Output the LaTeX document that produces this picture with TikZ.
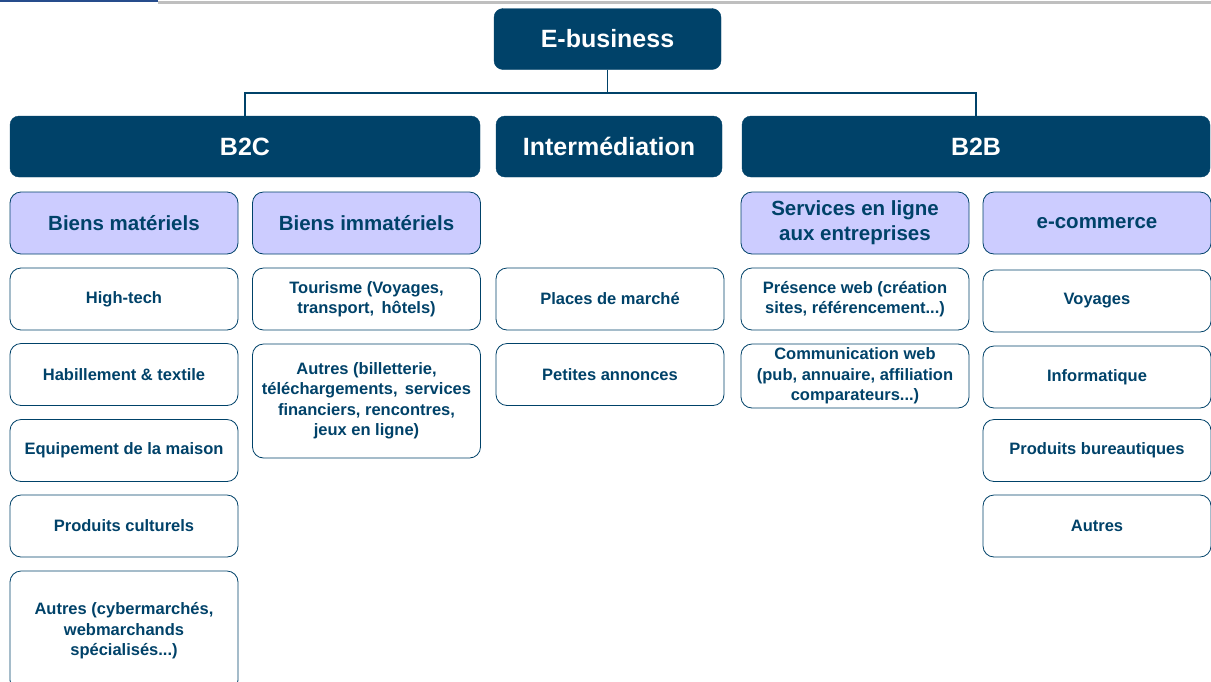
\documentclass[tikz,border=0pt]{standalone}
\usepackage{fontspec}
\setmainfont{Liberation Sans}
\definecolor{navy}{rgb}{0.0,0.26,0.41}
\definecolor{lavender}{rgb}{0.8,0.8,1.0}
\definecolor{rulegray}{rgb}{0.75,0.75,0.75}
\definecolor{ruleblue}{rgb}{0.15,0.30,0.55}
\tikzset{
  hdr/.style={draw=navy, fill=navy, text=white, rounded corners=9pt, minimum height=61pt, inner sep=0pt, align=center, font=\fontsize{25}{29}\selectfont\bfseries},
  subhdr/.style={draw=navy, fill=lavender, text=navy, line width=0.8pt, rounded corners=11pt, minimum width=228pt, minimum height=62pt, inner sep=0pt, align=center, font=\fontsize{20.5}{25}\selectfont\bfseries},
  item/.style={draw=navy, fill=white, text=navy, line width=0.8pt, rounded corners=11pt, minimum width=228pt, minimum height=62pt, inner sep=0pt, align=center, font=\fontsize{16.5}{20.5}\selectfont\bfseries},
  link/.style={draw=navy, line width=1.2pt}
}

\begin{document}
\begin{tikzpicture}[x=1pt,y=-1pt]
  \useasboundingbox[fill=white] (0,0) rectangle (1211,681);
  % rules at the top
  \draw[ruleblue, line width=2pt] (0,1) -- (158,1);
  \draw[rulegray, line width=3pt] (158,2) -- (1211,2);

  % top level
  \node(ebiz) [hdr, minimum width=227pt] at (607.5,39) {E-business};
  \node(b2c)  [hdr, minimum width=470pt] at (245,146.5) {B2C};
  \node(inter)[hdr, minimum width=226pt] at (609,146.5) {Intermédiation};
  \node(b2b)  [hdr, minimum width=468pt] at (976,146.5) {B2B};

  % sub-categories
  \node(mat)   [subhdr] at (124,223) {Biens matériels};
  \node(immat) [subhdr] at (366.5,223) {Biens immatériels};
  \node(serv)  [subhdr] at (855,223) {Services en ligne\\aux entreprises};
  \node(ecom)  [subhdr] at (1097,223) {e-commerce};

  % B2C, biens materiels
  \node(hightech) [item] at (124,299) {High-tech};
  \node(habil)    [item] at (124,374.5) {Habillement \& textile};
  \node(equip)    [item] at (124,450.5) {Equipement de la maison};
  \node(cult)     [item] at (124,526) {Produits culturels};
  \node(autresA)  [item, minimum height=120pt] at (124,631) {Autres (cybermarchés,\\webmarchands\\spécialisés...)};

  % B2C, biens immateriels
  \node(tour)    [item] at (366.5,299) {Tourisme (Voyages,\\transport,\, hôtels)};
  \node(autresB) [item, minimum height=114pt] at (366.5,401) {Autres (billetterie,\\téléchargements,\, services\\financiers, rencontres,\\jeux en ligne)};

  % intermediation
  \node(places) [item] at (610,299) {Places de marché};
  \node(annon)  [item] at (610,374.5) {Petites annonces};

  % B2B, services
  \node(pres) [item] at (855,299) {Présence web (création\\sites, référencement...)};
  \node(comm) [item, minimum height=64pt] at (855,376) {Communication web\\(pub, annuaire, affiliation\\comparateurs...)};

  % B2B, e-commerce
  \node(voy)    [item] at (1097,301) {Voyages};
  \node(info)   [item] at (1097,377) {Informatique};
  \node(bureau) [item] at (1097,450.5) {Produits bureautiques};
  \node(autresC)[item] at (1097,526) {Autres};

  \coordinate (split) at (607.5,93);
  \draw[link] (ebiz) -- (split);
  \draw[link] (split) -| (b2c);
  \draw[link] (split) -| (b2b);
\end{tikzpicture}
\end{document}
